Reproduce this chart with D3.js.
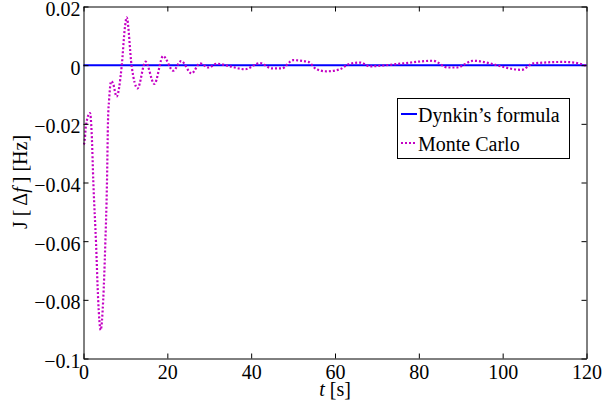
<!DOCTYPE html>
<html>
<head>
<meta charset="utf-8">
<script src="https://cdn.jsdelivr.net/npm/d3@7"></script>
<style>
  body { margin: 0; background: #fff; }
  svg { display: block; }
</style>
</head>
<body>
<div id="main"></div>
<script>
'use strict';

// --- data ---
var dynkinT = [0, 120];
var dynkinJ = [0, 0];

var mcT = [0, 0.2, 0.6, 1.55, 1.95, 2.35, 3.0, 3.5, 4.1, 4.7, 5.2, 5.6, 5.85, 6.1, 6.6, 7.0, 7.9,
  9.1, 9.9, 10.3, 11.5, 12.9, 14.8, 16.9, 19.0, 21.4, 23.3, 25.8, 27.8, 29.8, 31.8, 34.9,
  38.5, 42.1, 44.9, 47.3, 50.0, 53.6, 55.6, 58.0, 61.2, 63.2, 66.0, 68.3, 72.3, 76.2,
  83.4, 86.9, 89.0, 93.0, 97.0, 99.8, 104.5, 107.3, 114.5, 117.5, 120];
var mcJ = [-0.027, -0.0266, -0.0204, -0.0163, -0.0232, -0.040, -0.061, -0.080, -0.0903, -0.080,
  -0.061, -0.040, -0.0187, -0.012, -0.0055, -0.006, -0.0107,
  -0.0005, 0.0131, 0.0163, -0.0005, -0.0079, 0.0012, -0.0064, 0.0031, -0.0019, 0.0014,
  -0.0028, 0.0006, -0.0008, 0.0005, -0.0004, -0.0014, 0.0007, -0.0011, -0.0011, 0.0017,
  0.0011, -0.0014, -0.0021, -0.0014, 0.0003, 0.0009, -0.0004, 0.0, 0.0006,
  0.0015, -0.0008, -0.0008, 0.0015, 0.0006, -0.0005, -0.0016, 0.0006, 0.0011, 0.0008, -0.0003];

var xTicks = [0, 20, 40, 60, 80, 100, 120];
var yTicks = [0.02, 0, -0.02, -0.04, -0.06, -0.08, -0.1];
var legendNames = ['Dynkin\u2019s formula', 'Monte Carlo'];

var width = 603, height = 412;
var plot = { left: 83.5, right: 586.5, top: 6.5, bottom: 358.5 };
var serif = '"Liberation Serif", "Times New Roman", Times, serif';

var svg = d3.select('#main').append('svg')
  .attr('width', width).attr('height', height);

var x = d3.scaleLinear().domain([0, 120]).range([plot.left, plot.right]);
var y = d3.scaleLinear().domain([-0.1, 0.02]).range([plot.bottom, plot.top]);

var fmt = function(d) { return d === 0 ? '0' : d3.format('.2~f')(d); };

// series
var line = d3.line()
  .x(function(d) { return x(d[0]); })
  .y(function(d) { return y(d[1]); })
  .curve(d3.curveMonotoneX);

svg.append('path')
  .datum(d3.zip(dynkinT, dynkinJ))
  .attr('d', line)
  .attr('fill', 'none')
  .attr('stroke', '#0000ff')
  .attr('stroke-width', 2);

svg.append('path')
  .datum(d3.zip(mcT, mcJ))
  .attr('d', line)
  .attr('fill', 'none')
  .attr('stroke', '#c400c4')
  .attr('stroke-width', 2.2)
  .attr('stroke-dasharray', '2,2');

// axes (ticks point inward, full box)
var axisStyle = function(g) {
  g.attr('font-family', null).attr('font-size', null);
  g.selectAll('path, line').attr('stroke', '#000').attr('stroke-width', 1);
  g.selectAll('text').attr('fill', '#000')
    .style('font-family', serif).style('font-size', '20px');
};

svg.append('g')
  .attr('transform', 'translate(0,' + plot.bottom + ')')
  .call(d3.axisBottom(x).tickValues(xTicks).tickFormat(fmt)
    .tickSizeInner(-5).tickSizeOuter(0).tickPadding(6.5))
  .call(axisStyle);

svg.append('g')
  .attr('transform', 'translate(0,' + plot.top + ')')
  .call(d3.axisTop(x).tickValues(xTicks).tickFormat('')
    .tickSizeInner(-5).tickSizeOuter(0))
  .call(axisStyle);

svg.append('g')
  .attr('transform', 'translate(' + plot.left + ',0)')
  .call(d3.axisLeft(y).tickValues(yTicks).tickFormat(fmt)
    .tickSizeInner(-5).tickSizeOuter(0).tickPadding(3))
  .call(axisStyle)
  .selectAll('text').attr('dy', '0.45em');

svg.append('g')
  .attr('transform', 'translate(' + plot.right + ',0)')
  .call(d3.axisRight(y).tickValues(yTicks).tickFormat('')
    .tickSizeInner(-5).tickSizeOuter(0))
  .call(axisStyle);

// axis labels
var xl = svg.append('text')
  .attr('x', (plot.left + plot.right) / 2)
  .attr('y', 396)
  .attr('text-anchor', 'middle')
  .style('font-family', serif)
  .style('font-size', '20px');
xl.append('tspan').style('font-style', 'italic').text('t');
xl.append('tspan').text(' [s]');

var yl = svg.append('text')
  .attr('transform', 'translate(27,182) rotate(-90)')
  .attr('text-anchor', 'middle')
  .style('font-family', serif)
  .style('font-size', '20px');
yl.append('tspan').text('J [\u2009\u0394');
yl.append('tspan').style('font-style', 'italic').text('f');
yl.append('tspan').text('\u2009] [Hz]');

// legend
var legend = svg.append('g');
legend.append('rect')
  .attr('x', 397.5).attr('y', 98.5)
  .attr('width', 172).attr('height', 60)
  .attr('fill', '#fff').attr('stroke', '#000').attr('stroke-width', 1);

legend.append('line')
  .attr('x1', 401).attr('x2', 417).attr('y1', 114).attr('y2', 114)
  .attr('stroke', '#0000ff').attr('stroke-width', 2);
legend.append('line')
  .attr('x1', 401).attr('x2', 417).attr('y1', 143).attr('y2', 143)
  .attr('stroke', '#c400c4').attr('stroke-width', 2)
  .attr('stroke-dasharray', '2,2');

legend.selectAll('text.lab')
  .data(legendNames).enter()
  .append('text')
  .attr('class', 'lab')
  .attr('x', 418)
  .attr('y', function(d, i) { return i === 0 ? 121.5 : 150.5; })
  .style('font-family', serif)
  .style('font-size', '20px')
  .text(function(d) { return d; });
</script>
</body>
</html>
